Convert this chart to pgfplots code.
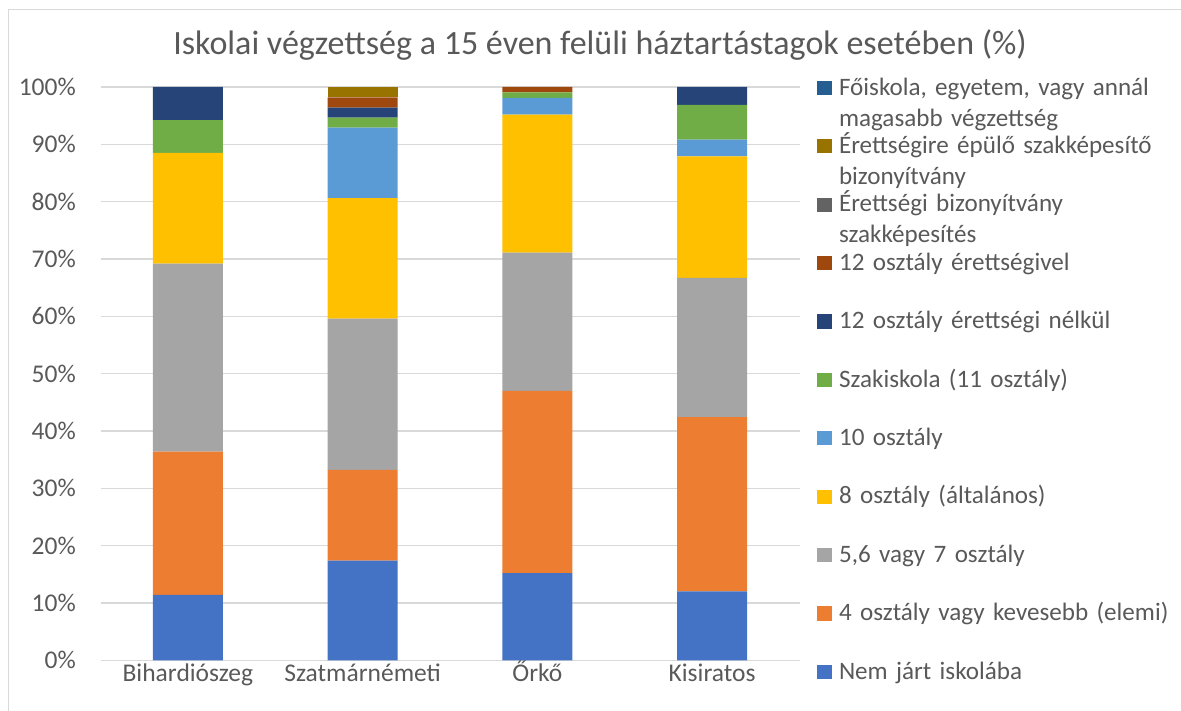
\documentclass[border=0pt]{standalone}
\usepackage{pgfplots}
\pgfplotsset{compat=1.18}
\usepackage{pgfplotstable}
\usepackage{fontspec}
\setmainfont{Carlito}
\definecolor{c1}{HTML}{4472C4}
\definecolor{c2}{HTML}{ED7D31}
\definecolor{c3}{HTML}{A5A5A5}
\definecolor{c4}{HTML}{FFC000}
\definecolor{c5}{HTML}{5B9BD5}
\definecolor{c6}{HTML}{70AD47}
\definecolor{c7}{HTML}{264478}
\definecolor{c8}{HTML}{9E480E}
\definecolor{c9}{HTML}{636363}
\definecolor{c10}{HTML}{997300}
\definecolor{c11}{HTML}{255E91}
\definecolor{txt}{HTML}{595959}
\definecolor{gridc}{HTML}{D9D9D9}
\pgfplotstableread{
x nemjart negy hat nyolc tiz szak nelkul erettv erettszak epulo foisk
0 11.4 25.0 32.8 19.3 0    5.7  5.8  0    0 0   0
1 17.4 15.8 26.4 21.0 12.3 1.75 1.75 1.8  0 1.8 0
2 15.2 31.8 24.1 24.1 2.9  0.95 0    0.95 0 0   0
3 12.0 30.4 24.3 21.2 2.9  6.1  3.1  0    0 0   0
}\data
\begin{document}
\begin{tikzpicture}[x=1pt,y=1pt]
\path[use as bounding box] (0,0) rectangle (1181,711);
\draw[gridc, line width=1pt] (8,-5) -- (8,701) -- (1190,701);
\node[font=\fontsize{34}{40}\selectfont, text=txt] at (600,666) {Iskolai végzettség a 15 éven felüli háztartástagok esetében (\%)};
\begin{axis}[
  at={(100.5pt,50.7pt)}, anchor=south west, scale only axis,
  width=699pt, height=573.3pt,
  ybar stacked, bar width=69.9pt,
  xmin=-0.5, xmax=3.5, ymin=0, ymax=100,
  xtick={0,1,2,3}, xticklabels={Bihardiószeg,Szatmárnémeti,Őrkő,Kisiratos},
  ytick={0,10,...,100},
  yticklabels={0\%,10\%,20\%,30\%,40\%,50\%,60\%,70\%,80\%,90\%,100\%},
  major tick length=0pt,
  axis line style={draw=none},
  ymajorgrids, grid style={gridc, line width=1.3pt},
  ticklabel style={font=\fontsize{25.5}{30}\selectfont, text=txt, inner sep=0pt},
  xticklabel style={anchor=base, yshift=-21.7pt},
  yticklabel style={anchor=east, xshift=-24.5pt},
  legend cell align=left,
  legend style={at={(1.0255,1.0209)}, anchor=north west, draw=none, fill=none,
    inner sep=0pt, outer sep=0pt, row sep=0pt, column sep=7.4pt,
    nodes={inner sep=0pt, text width=345pt, align=left,
      font=\fontsize{25.1}{31}\selectfont, text=txt, text height=20pt, text depth=38.4pt},
    cells={anchor=base west}},
  legend image code/.code={\fill[#1] (0pt,0pt) rectangle (14.3pt,14.3pt);},
  reverse legend,
]
\addplot[fill=c1, draw=none] table[x=x, y=nemjart] {\data};
\addlegendentry{Nem járt iskolába}
\addplot[fill=c2, draw=none] table[x=x, y=negy] {\data};
\addlegendentry{4 osztály vagy kevesebb (elemi)}
\addplot[fill=c3, draw=none] table[x=x, y=hat] {\data};
\addlegendentry{5,6 vagy 7 osztály}
\addplot[fill=c4, draw=none] table[x=x, y=nyolc] {\data};
\addlegendentry{8 osztály (általános)}
\addplot[fill=c5, draw=none] table[x=x, y=tiz] {\data};
\addlegendentry{10 osztály}
\addplot[fill=c6, draw=none] table[x=x, y=szak] {\data};
\addlegendentry{Szakiskola (11 osztály)}
\addplot[fill=c7, draw=none] table[x=x, y=nelkul] {\data};
\addlegendentry{12 osztály érettségi nélkül}
\addplot[fill=c8, draw=none] table[x=x, y=erettv] {\data};
\addlegendentry{12 osztály érettségivel}
\addplot[fill=c9, draw=none] table[x=x, y=erettszak] {\data};
\addlegendentry{Érettségi bizonyítvány\\szakképesítés}
\addplot[fill=c10, draw=none] table[x=x, y=epulo] {\data};
\addlegendentry{Érettségire épülő szakképesítő\\bizonyítvány}
\addplot[fill=c11, draw=none] table[x=x, y=foisk] {\data};
\addlegendentry{Főiskola, egyetem, vagy annál\\magasabb végzettség}
\end{axis}
\end{tikzpicture}
\end{document}
